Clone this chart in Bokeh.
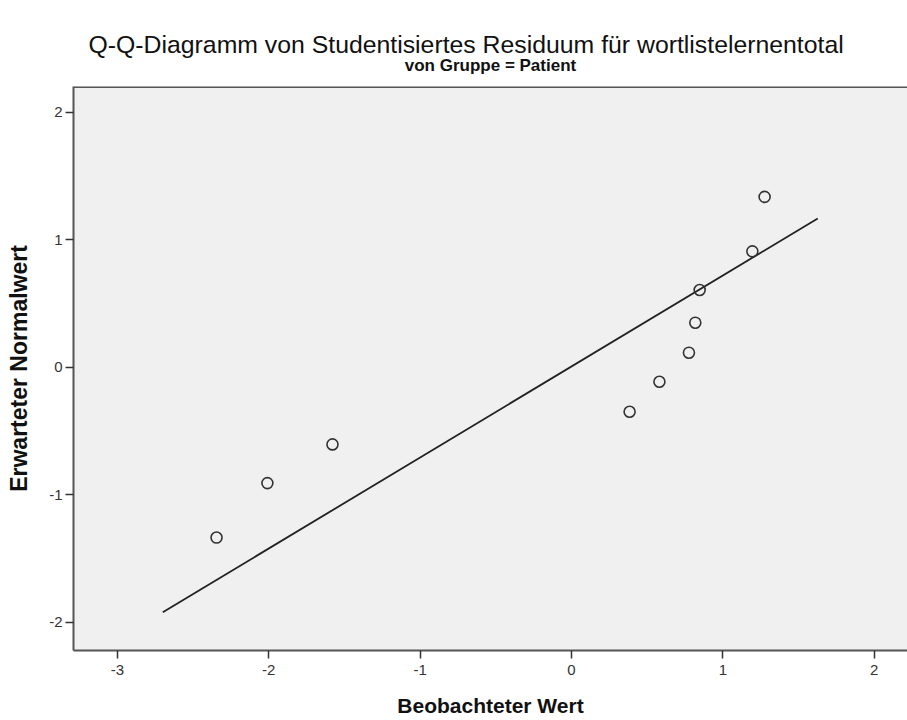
from bokeh.plotting import figure
from bokeh.models import Span, FixedTicker, LinearAxis
from bokeh.embed import file_html
from bokeh.resources import INLINE

# Data: studentized residuals (observed) vs expected normal values
observed = [-2.345, -2.009, -1.579, 0.384, 0.581, 0.776, 0.818, 0.847, 1.195, 1.276]
expected = [-1.335, -0.908, -0.605, -0.349, -0.114, 0.114, 0.349, 0.605, 0.908, 1.335]
line_x = [-2.70, 1.627]
line_y = [-1.92, 1.166]
x_ticks = [-3, -2, -1, 0, 1, 2]
y_ticks = [-2, -1, 0, 1, 2]
x_tick_labels = {t: str(t) for t in x_ticks}
y_tick_labels = {t: str(t) for t in y_ticks}
title_text = "Q-Q-Diagramm von Studentisiertes Residuum für wortlistelernentotal"
subtitle_text = "von Gruppe = Patient"

FONT = "Liberation Sans"
Y_TOP = 2.2

p = figure(width=907, height=720, x_range=(-3.29, 2.22), y_range=(-2.22, Y_TOP),
           output_backend="svg", toolbar_location=None,
           min_border_left=73, min_border_right=0, min_border_top=86, min_border_bottom=70,
           background_fill_color="#f0f0f0", border_fill_color="white")

xa = p.below[0]
ya = p.left[0]

p.title.text = title_text
p.title.align = "left"
p.title.offset = 15
p.title.text_font = FONT
p.title.text_font_size = "24.8px"
p.title.text_font_style = "normal"
p.title.text_color = "#111111"
p.title.standoff = -11

# subtitle drawn as the label of an empty top axis (centred over the frame)
sub_axis = LinearAxis(ticker=FixedTicker(ticks=[]), axis_line_color=None,
                      major_tick_out=0, major_tick_in=0, minor_tick_out=0, minor_tick_in=0,
                      axis_label=subtitle_text, axis_label_standoff=12,
                      axis_label_text_font=FONT, axis_label_text_font_size="17px",
                      axis_label_text_font_style="bold", axis_label_text_color="#111111")
p.add_layout(sub_axis, "above")

p.outline_line_color = None
p.grid.visible = False

p.line(line_x, line_y, line_color="#222222", line_width=1.8)
p.scatter(observed, expected, marker="circle", size=11, fill_color=None,
          line_color="#333333", line_width=1.6)

for ax in (xa, ya):
    ax.axis_line_color = "#555555"
    ax.axis_line_width = 2
    ax.major_tick_line_color = "#333333"
    ax.major_tick_line_width = 1.5
    ax.major_tick_out = 8
    ax.major_tick_in = 0
    ax.minor_tick_line_color = None
    ax.major_label_text_font = FONT
    ax.major_label_text_font_size = "15px"
    ax.major_label_text_color = "#333333"
    ax.axis_label_text_font = FONT
    ax.axis_label_text_font_style = "bold"
    ax.axis_label_text_color = "#111111"

xa.ticker = FixedTicker(ticks=x_ticks)
ya.ticker = FixedTicker(ticks=y_ticks)
xa.major_label_overrides = x_tick_labels
ya.major_label_overrides = y_tick_labels
xa.axis_label = "Beobachteter Wert"
ya.axis_label = "Erwarteter Normalwert"
xa.axis_label_text_font_size = "21px"
ya.axis_label_text_font_size = "23px"
xa.major_label_standoff = 6
ya.major_label_standoff = 3
xa.axis_label_standoff = 16
ya.axis_label_standoff = 14

top_line = Span(location=Y_TOP, dimension="width", line_color="#555555", line_width=3)
p.add_layout(top_line)

open("out.html", "w").write(file_html(p, INLINE))
